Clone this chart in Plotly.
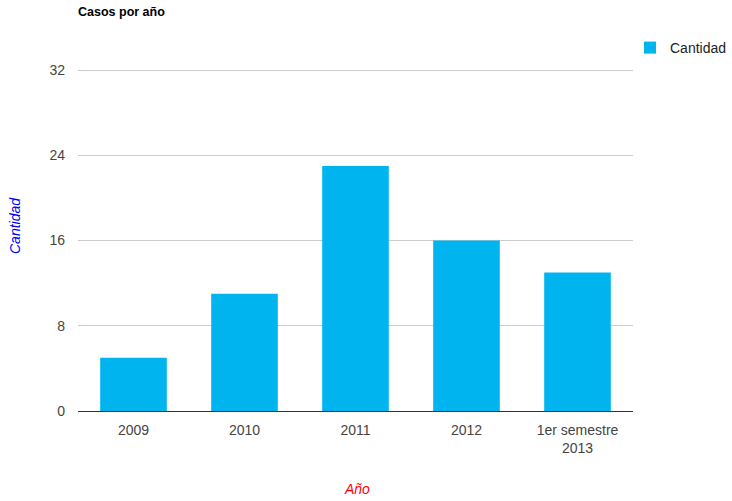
import plotly.graph_objects as go

categories = ["2009", "2010", "2011", "2012", "1er semestre<br>2013"]
values = [5, 11, 23, 16, 13]
y_ticks = [0, 8, 16, 24, 32]

W, H = 732, 501
L, R, T, B = 78, 99, 69, 90
pw, ph = W - L - R, H - T - B

fig = go.Figure()
fig.add_trace(go.Bar(x=categories, y=values, name="Cantidad",
                     marker=dict(color="#00b4ef", line=dict(width=0))))

font = "Arial, Liberation Sans, sans-serif"
fig.update_layout(
    width=W, height=H,
    margin=dict(l=L, r=R, t=T, b=B, autoexpand=False),
    paper_bgcolor="white", plot_bgcolor="white",
    font=dict(family=font, size=14, color="#444444"),
    bargap=0.4,
    showlegend=True,
    legend=dict(x=(630 - L) / pw, y=(H - B - 48) / ph,
                xanchor="left", yanchor="middle",
                font=dict(size=14, color="#222222"), itemwidth=30,
                bgcolor="rgba(0,0,0,0)"),
    title=dict(text="<b>Casos por año</b>", x=L / W, xanchor="left", xref="container",
               y=1 - 12 / H, yanchor="middle", yref="container",
               font=dict(family=font, size=12.5, color="#000000")),
    xaxis=dict(showgrid=False, showline=False, ticks="", tickfont=dict(size=14, color="#444444"),
               ticklabelstandoff=9),
    yaxis=dict(range=[0, 32.1], tickvals=y_ticks, showgrid=True, gridcolor="#cccccc",
               zeroline=True, zerolinecolor="#333333", zerolinewidth=1,
               showline=False, ticks="", ticklabelstandoff=12,
               tickfont=dict(size=14, color="#444444")),
    annotations=[
        dict(text="<i>Año</i>", xref="paper", yref="paper",
             x=(357 - L) / pw, y=(H - B - 489) / ph, showarrow=False,
             font=dict(family=font, size=14, color="#ff0000"), xanchor="center", yanchor="middle"),
        dict(text="<i>Cantidad</i>", xref="paper", yref="paper",
             x=(15 - L) / pw, y=(H - B - 226) / ph, showarrow=False, textangle=-90,
             font=dict(family=font, size=14, color="#0000ff"), xanchor="center", yanchor="middle"),
    ],
)

fig.write_html("out.html", config={"displayModeBar": False},
               post_script="document.body.style.margin='0';document.body.style.overflow='hidden';")
